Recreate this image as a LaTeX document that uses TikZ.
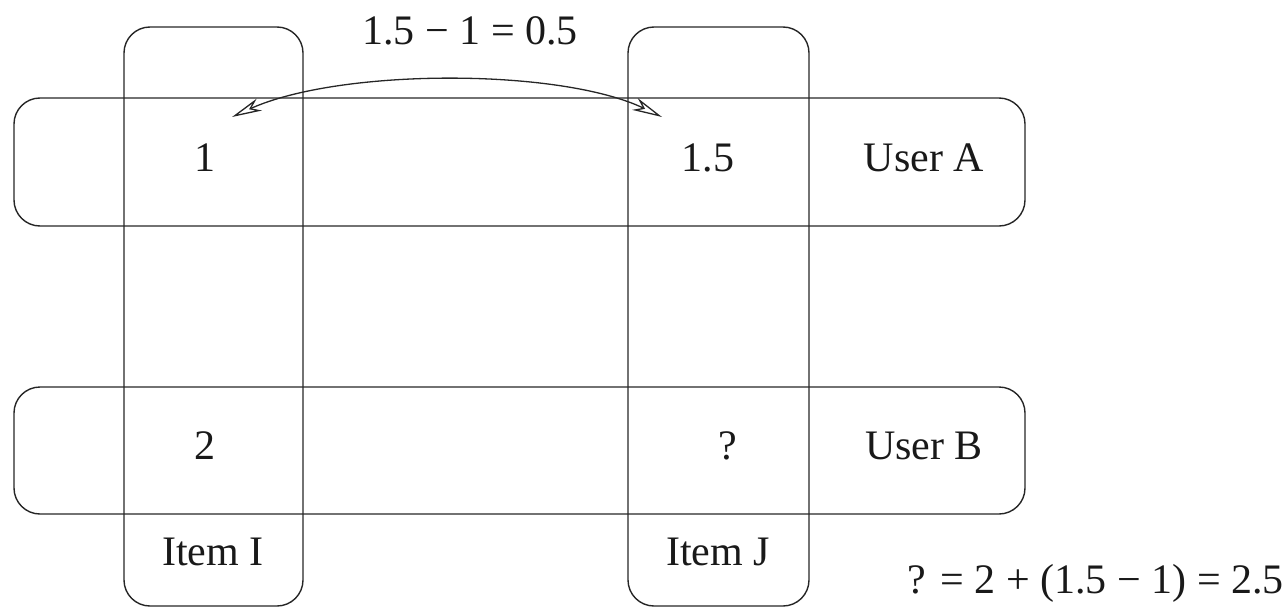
\documentclass[tikz,border=0pt]{standalone}
\usepackage{fontspec}
\setmainfont{Liberation Serif}
\usetikzlibrary{arrows.meta}
\begin{document}
\begin{tikzpicture}[x=1pt,y=-1pt,
  box/.style={draw=black!85, line width=1.4pt, rounded corners=26pt, inner sep=0pt},
  lbl/.style={inner sep=0pt, font=\fontsize{42}{50}\selectfont, text=black!90},
  link/.style={draw=black!85, line width=1.3pt, {Stealth[open,length=30pt,width=13pt,inset=9pt]}-{Stealth[open,length=30pt,width=13pt,inset=9pt]}}]
\useasboundingbox (0,0) rectangle (1287,613);
% rows (users)
\node[box, minimum width=1011pt, minimum height=128pt] (rowA) at (519.5,162) {};
\node[box, minimum width=1011pt, minimum height=127pt] (rowB) at (519.5,450.5) {};
% columns (items)
\node[box, minimum width=179pt, minimum height=579pt] (colI) at (213.5,316.5) {};
\node[box, minimum width=181pt, minimum height=579pt] (colJ) at (718.5,316.5) {};
% texts
\node[lbl] (a1) at (205,158) {1};
\node[lbl] (a15) at (708,158) {1.5};
\node[lbl] (ua) at (924,158) {User A};
\node[lbl] (b2) at (205,446) {2};
\node[lbl] (bq) at (728,446) {?};
\node[lbl] (ub) at (924,446) {User B};
\node[lbl] (ii) at (213,552) {Item I};
\node[lbl] (ij) at (718,552) {Item J};
\node[lbl] (diff) at (470,31) {1.5 − 1 = 0.5};
\node[lbl, anchor=east] (res) at (1284,583) {? = 2 + (1.5 − 1) = 2.5};
% arrow
\coordinate (pl) at (232,117);
\coordinate (pr) at (662,117);
\draw[link] (pl) .. controls (340,68) and (560,68) .. (pr);
\end{tikzpicture}
\end{document}
